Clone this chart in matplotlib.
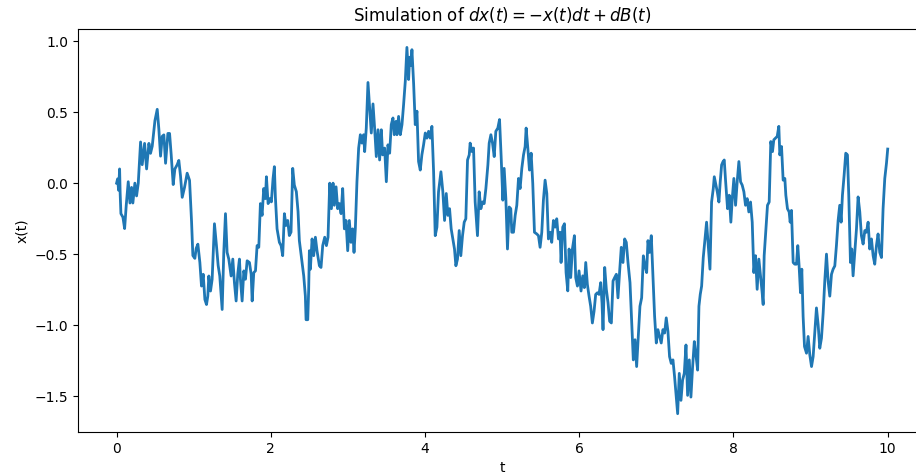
import matplotlib
matplotlib.use("Agg")
import matplotlib.pyplot as plt

# Path, (t, x) pairs
t_pts = [
    0.0, 0.013, 0.026, 0.039, 0.046, 0.056, 0.082, 0.104, 0.125, 0.151, 0.173, 0.194, 0.211, 0.237, 0.259, 0.281,
    0.311, 0.332, 0.363, 0.389, 0.419, 0.440, 0.462, 0.497, 0.527, 0.548, 0.570, 0.592, 0.613, 0.635, 0.665, 0.687,
    0.708, 0.734, 0.756, 0.786, 0.807, 0.829, 0.851, 0.881, 0.915, 0.946, 0.972, 0.989, 1.015, 1.032, 1.054, 1.080,
    1.101, 1.123, 1.145, 1.166, 1.183, 1.196, 1.218, 1.239, 1.269, 1.295, 1.317, 1.338, 1.369, 1.390, 1.412, 1.433,
    1.455, 1.485, 1.507, 1.528, 1.550, 1.571, 1.593, 1.606, 1.628, 1.650, 1.671, 1.693, 1.723, 1.745, 1.758, 1.779,
    1.801, 1.822, 1.844, 1.865, 1.887, 1.908, 1.930, 1.943, 1.965, 1.986, 2.007, 2.029, 2.046, 2.059, 2.081, 2.111,
    2.133, 2.154, 2.176, 2.197, 2.219, 2.240, 2.262, 2.284, 2.305, 2.331, 2.353, 2.370, 2.405, 2.427, 2.448, 2.457,
    2.479, 2.491, 2.500, 2.513, 2.535, 2.556, 2.578, 2.599, 2.630, 2.651, 2.673, 2.699, 2.721, 2.742, 2.764, 2.786,
    2.807, 2.824, 2.846, 2.867, 2.889, 2.911, 2.932, 2.954, 2.975, 2.997, 3.018, 3.040, 3.061, 3.079, 3.096, 3.117,
    3.139, 3.161, 3.182, 3.204, 3.217, 3.238, 3.260, 3.282, 3.303, 3.325, 3.346, 3.368, 3.390, 3.411, 3.433, 3.450,
    3.476, 3.498, 3.519, 3.541, 3.562, 3.584, 3.601, 3.623, 3.636, 3.657, 3.679, 3.701, 3.722, 3.744, 3.765, 3.787,
    3.800, 3.817, 3.830, 3.852, 3.873, 3.895, 3.916, 3.938, 3.959, 3.981, 4.003, 4.024, 4.046, 4.067, 4.089, 4.111,
    4.132, 4.154, 4.175, 4.206, 4.231, 4.253, 4.275, 4.296, 4.318, 4.339, 4.361, 4.382, 4.400, 4.421, 4.443, 4.464,
    4.486, 4.508, 4.529, 4.551, 4.573, 4.585, 4.607, 4.629, 4.650, 4.680, 4.702, 4.724, 4.745, 4.767, 4.789, 4.815,
    4.832, 4.854, 4.875, 4.897, 4.918, 4.944, 4.966, 4.987, 5.009, 5.026, 5.048, 5.069, 5.091, 5.112, 5.125, 5.147,
    5.169, 5.190, 5.212, 5.233, 5.255, 5.277, 5.298, 5.311, 5.333, 5.354, 5.376, 5.397, 5.419, 5.449, 5.471, 5.492,
    5.514, 5.535, 5.557, 5.579, 5.600, 5.622, 5.643, 5.665, 5.687, 5.708, 5.730, 5.751, 5.764, 5.786, 5.808, 5.829,
    5.851, 5.868, 5.889, 5.911, 5.937, 5.954, 5.976, 5.997, 6.023, 6.045, 6.066, 6.084, 6.105, 6.127, 6.148, 6.170,
    6.192, 6.213, 6.235, 6.256, 6.278, 6.295, 6.308, 6.330, 6.351, 6.373, 6.394, 6.416, 6.438, 6.459, 6.481, 6.502,
    6.524, 6.545, 6.567, 6.589, 6.610, 6.632, 6.658, 6.679, 6.701, 6.723, 6.744, 6.766, 6.787, 6.809, 6.831, 6.852,
    6.874, 6.891, 6.912, 6.934, 6.956, 6.977, 6.999, 7.020, 7.042, 7.063, 7.085, 7.107, 7.128, 7.150, 7.171, 7.193,
    7.215, 7.236, 7.254, 7.276, 7.297, 7.319, 7.340, 7.362, 7.384, 7.405, 7.427, 7.448, 7.470, 7.492, 7.513, 7.535,
    7.552, 7.569, 7.587, 7.608, 7.630, 7.651, 7.673, 7.695, 7.716, 7.738, 7.751, 7.768, 7.790, 7.811, 7.828, 7.846,
    7.863, 7.880, 7.897, 7.923, 7.945, 7.966, 7.984, 8.005, 8.027, 8.048, 8.070, 8.092, 8.113, 8.135, 8.156, 8.178,
    8.199, 8.221, 8.243, 8.264, 8.286, 8.307, 8.329, 8.351, 8.372, 8.385, 8.398, 8.420, 8.441, 8.463, 8.484, 8.506,
    8.523, 8.545, 8.567, 8.588, 8.601, 8.623, 8.644, 8.666, 8.679, 8.700, 8.722, 8.735, 8.752, 8.774, 8.795, 8.817,
    8.834, 8.851, 8.869, 8.886, 8.903, 8.921, 8.947, 8.968, 8.990, 9.012, 9.033, 9.055, 9.076, 9.098, 9.119, 9.141,
    9.163, 9.184, 9.206, 9.227, 9.249, 9.271, 9.292, 9.314, 9.335, 9.357, 9.378, 9.396, 9.413, 9.435, 9.456, 9.478,
    9.495, 9.517, 9.534, 9.551, 9.573, 9.595, 9.616, 9.638, 9.659, 9.681, 9.703, 9.724, 9.746, 9.767, 9.789, 9.811,
    9.832, 9.854, 9.875, 9.897, 9.919, 9.940, 9.962, 9.984, 10.0,
]
x_pts = [
    0.00, 0.03, -0.05, 0.10, -0.07, -0.215, -0.24, -0.32, -0.156, 0.01, -0.14, -0.03, -0.14, 0.0, -0.09, 0.0,
    0.29, 0.13, 0.28, 0.10, 0.28, 0.21, 0.26, 0.44, 0.52, 0.38, 0.19, 0.33, 0.34, 0.14, 0.35, 0.35,
    0.20, -0.01, 0.10, 0.13, 0.16, 0.05, -0.10, -0.03, 0.07, 0.02, -0.27, -0.51, -0.53, -0.46, -0.43, -0.56,
    -0.725, -0.642, -0.82, -0.855, -0.795, -0.654, -0.76, -0.677, -0.286, -0.44, -0.58, -0.654, -0.89, -0.488, -0.215, -0.488,
    -0.535, -0.654, -0.535, -0.70, -0.83, -0.642, -0.535, -0.677, -0.83, -0.618, -0.677, -0.547, -0.559, -0.642, -0.83, -0.63,
    -0.618, -0.44, -0.452, -0.144, -0.227, -0.038, -0.109, 0.045, -0.144, -0.109, -0.132, 0.033, 0.116, -0.097, -0.322, -0.417,
    -0.44, -0.511, -0.215, -0.298, -0.263, -0.369, -0.345, 0.104, -0.014, -0.06, -0.20, -0.405, -0.558, -0.654, -0.796, -0.962,
    -0.962, -0.749, -0.476, -0.606, -0.393, -0.511, -0.381, -0.476, -0.582, -0.594, -0.44, -0.381, -0.44, -0.381, 0.0, -0.18,
    0.0, -0.156, -0.026, -0.18, -0.144, -0.215, -0.038, -0.322, -0.263, -0.476, -0.263, -0.417, -0.322, -0.488, -0.322, 0.01,
    0.247, 0.341, 0.282, 0.341, 0.222, 0.388, 0.709, 0.53, 0.353, 0.558, 0.388, 0.187, 0.376, 0.163, 0.376, 0.199,
    0.247, 0.01, 0.27, 0.211, 0.412, 0.459, 0.341, 0.435, 0.341, 0.47, 0.341, 0.412, 0.554, 0.719, 0.956, 0.73,
    0.887, 0.828, 0.94, 0.70, 0.412, 0.507, 0.152, 0.092, 0.199, 0.27, 0.353, 0.317, 0.365, 0.317, 0.40, 0.08,
    -0.37, -0.31, -0.061, 0.08, -0.061, -0.263, -0.073, -0.227, -0.18, -0.322, -0.393, -0.464, -0.582, -0.535, -0.334, -0.511,
    -0.37, -0.275, -0.251, 0.163, 0.199, 0.282, 0.223, 0.247, -0.132, -0.37, -0.061, -0.18, -0.132, -0.144, -0.038, 0.128,
    0.282, 0.341, 0.282, 0.187, 0.365, 0.388, 0.448, 0.187, -0.12, 0.104, -0.109, -0.464, -0.168, -0.18, -0.346, -0.346,
    -0.227, -0.156, 0.033, -0.038, 0.104, 0.199, 0.258, 0.388, 0.246, 0.092, 0.211, -0.002, -0.346, -0.358, -0.37, -0.452,
    -0.346, -0.12, 0.021, -0.073, -0.393, -0.346, -0.417, -0.263, -0.31, -0.251, -0.393, -0.346, -0.559, -0.31, -0.286, -0.63,
    -0.759, -0.464, -0.665, -0.464, -0.37, -0.665, -0.725, -0.618, -0.76, -0.653, -0.736, -0.559, -0.713, -0.796, -0.867, -0.985,
    -0.902, -0.784, -0.772, -0.784, -0.701, -0.843, -1.032, -0.594, -0.748, -0.843, -0.973, -0.985, -0.689, -0.665, -0.642, -0.808,
    -0.618, -0.452, -0.559, -0.393, -0.417, -0.559, -0.701, -0.961, -1.245, -1.103, -1.292, -1.079, -0.867, -0.808, -0.512, -0.583,
    -0.63, -0.405, -0.488, -0.37, -0.653, -0.937, -1.126, -1.032, -1.079, -1.126, -1.032, -1.056, -0.949, -1.044, -1.222, -1.27,
    -1.245, -1.363, -1.482, -1.624, -1.34, -1.53, -1.387, -1.34, -1.14, -1.495, -1.245, -1.507, -1.293, -1.116, -1.21, -1.317,
    -0.867, -0.784, -0.725, -0.524, -0.393, -0.275, -0.44, -0.606, -0.133, -0.038, 0.045, -0.002, -0.061, -0.133, 0.009, 0.128,
    0.15, 0.163, 0.021, -0.18, -0.085, -0.275, -0.109, 0.033, -0.156, 0.009, 0.152, 0.009, -0.014, -0.061, -0.156, -0.109,
    -0.203, -0.133, -0.275, -0.63, -0.511, -0.748, -0.535, -0.653, -0.772, -0.855, -0.511, -0.334, -0.156, -0.133, 0.293, 0.222,
    0.305, 0.317, 0.329, 0.40, 0.199, 0.258, 0.021, 0.033, -0.085, -0.18, -0.203, -0.275, -0.192, -0.559, -0.571, -0.571,
    -0.44, -0.583, -0.772, -0.606, -0.938, -1.151, -1.198, -1.08, -1.21, -1.292, -1.222, -1.044, -0.879, -0.997, -1.163, -1.092,
    -0.914, -0.689, -0.50, -0.689, -0.796, -0.642, -0.606, -0.583, -0.44, -0.263, -0.156, -0.275, -0.085, 0.057, 0.211, 0.199,
    -0.085, -0.559, -0.464, -0.653, -0.488, -0.322, -0.097, -0.203, -0.37, -0.429, -0.334, -0.346, -0.275, -0.464, -0.393, -0.511,
    -0.571, -0.44, -0.358, -0.488, -0.524, -0.18, 0.033, 0.14, 0.24,
]

fig = plt.figure(figsize=(9.16, 4.74), dpi=100)
ax = fig.add_axes([0.0852, 0.0886, 0.926, 0.850])
ax.plot(t_pts, x_pts, color="#1f77b4", lw=2)
ax.set_xticks([0, 2, 4, 6, 8, 10])
ax.set_title(r"Simulation of $dx(t) = -x(t)dt + dB(t)$")
ax.set_xlabel("t")
ax.set_ylabel("x(t)")
fig.savefig("out.png", dpi=100)
